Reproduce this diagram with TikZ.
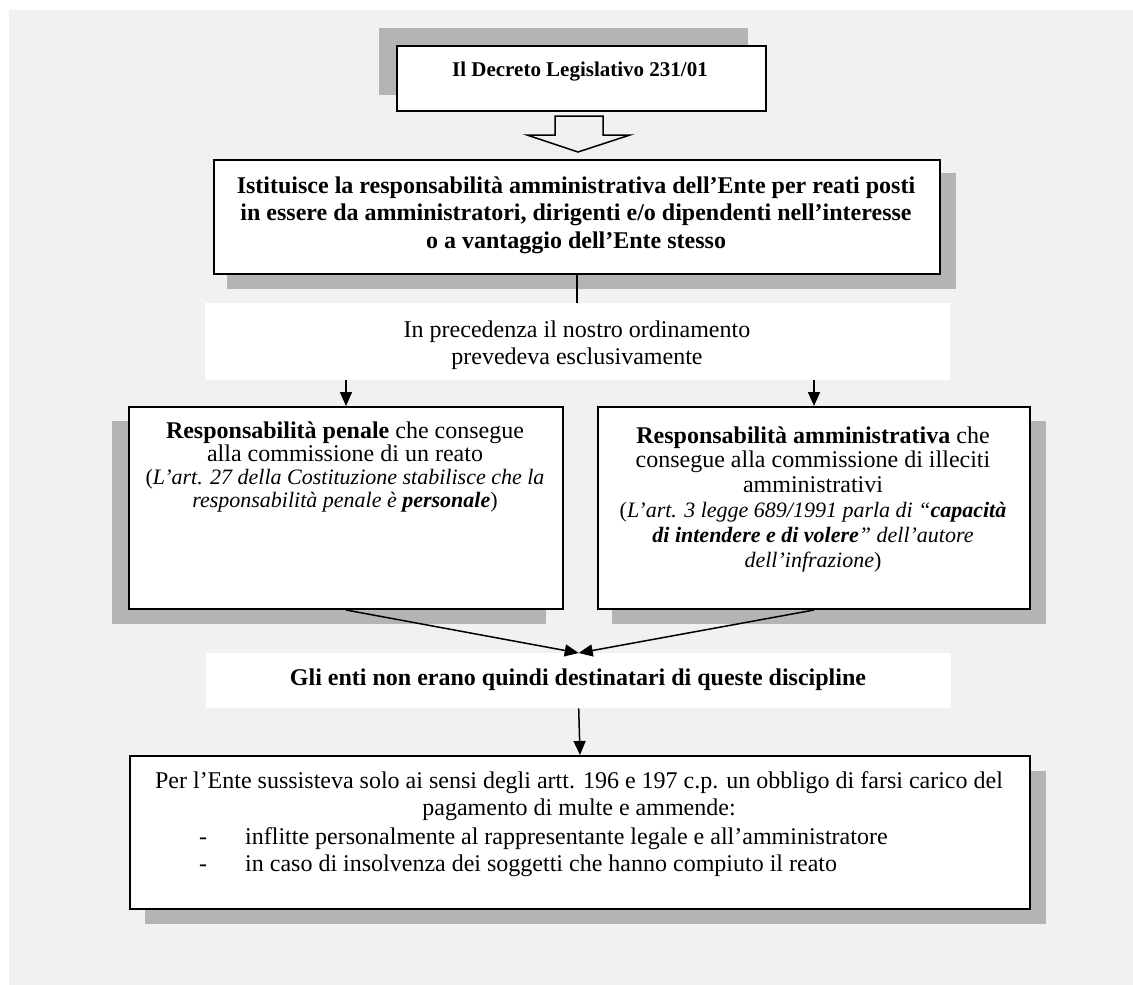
\documentclass[tikz,border=0pt]{standalone}
\usepackage{fontspec}
\setmainfont{Liberation Serif}
\usetikzlibrary{arrows.meta,calc}
\definecolor{bgc}{HTML}{F1F1F1}
\definecolor{shd}{HTML}{B4B4B4}
\newcommand\mynolsl{\lineskiplimit=-50pt\relax}
\begin{document}
\begin{tikzpicture}[x=1pt,y=-1pt,
  box/.style={draw=black, line width=2pt, fill=white, inner sep=0pt, anchor=north west},
  plainbox/.style={fill=white, inner sep=0pt, anchor=north west},
  shadowfill/.style={fill=shd},
  txt/.style={inner sep=0pt, align=center, anchor=base},
  arr/.style={line width=1.5pt, -{Triangle[length=14pt,width=12pt]}},
  conn/.style={line width=1.5pt}]
\useasboundingbox (0,0) rectangle (1133,985);
\fill[bgc] (9,10) rectangle (1133,985);
% shadows
\fill[shadowfill] (379,28) rectangle (748,95);
\fill[shadowfill] (227,173) rectangle (956,289);
\fill[shadowfill] (112,421) rectangle (546,624);
\fill[shadowfill] (612,421) rectangle (1046,624);
\fill[shadowfill] (145,771) rectangle (1046,924);
% boxes
\node[box, minimum width=369pt, minimum height=65pt] (dec) at (396,45) {};
\node[box, minimum width=726pt, minimum height=114pt] (ist) at (213,159) {};
\node[plainbox, minimum width=745pt, minimum height=77pt] (prec) at (205,303) {};
\node[box, minimum width=434pt, minimum height=202pt] (pen) at (128,406) {};
\node[box, minimum width=432pt, minimum height=202pt] (amm) at (597,406) {};
\node[plainbox, minimum width=745pt, minimum height=55pt] (gli) at (206,653) {};
\node[box, minimum width=900pt, minimum height=153pt] (per) at (129,755) {};
% block arrow
\draw[line width=1.5pt, line join=miter] (555,116) -- (603,116) -- (603,135) -- (630,135) -- (578,152) -- (527,135) -- (555,135) -- cycle;
% texts (anchor base = baseline of the last line)
\node[txt, font=\bfseries\fontsize{21}{24}\selectfont] (tdec) at (580,76) {Il Decreto Legislativo 231/01};
\node[txt, font=\bfseries\fontsize{24}{27.5}\selectfont\mynolsl] (tist) at (576,248)
  {Istituisce la responsabilità amministrativa dell’Ente per reati posti\\
   in essere da amministratori, dirigenti e/o dipendenti nell’interesse\\
   o a vantaggio dell’Ente stesso};
\node[txt, font=\fontsize{24}{27.5}\selectfont\mynolsl] (tprec) at (577,364.5)
  {In precedenza il nostro ordinamento\\prevedeva esclusivamente};
\node[txt, font=\fontsize{24}{23}\selectfont\mynolsl] (tpen) at (345,507)
  {\textbf{Responsabilità penale} che consegue\\
   alla commissione di un reato\\
   {\fontsize{22}{23}\selectfont(\textit{L’art. 27 della Costituzione stabilisce che la}}\\
   {\fontsize{22}{23}\selectfont\textit{responsabilità penale è \textbf{personale}})}};
\node[txt, font=\fontsize{24}{24.8}\selectfont\mynolsl] (tamm) at (813,567)
  {\textbf{Responsabilità amministrativa} che\\
   consegue alla commissione di illeciti\\
   amministrativi\\
   {\fontsize{22}{24.8}\selectfont(\textit{L’art. 3 legge 689/1991 parla di “\textbf{capacità}}}\\
   {\fontsize{22}{24.8}\selectfont\textit{\textbf{di intendere e di volere}” dell’autore}}\\
   {\fontsize{22}{24.8}\selectfont\textit{dell’infrazione})}};
\node[txt, font=\bfseries\fontsize{24}{27.5}\selectfont] (tgli) at (578,685)
  {Gli enti non erano quindi destinatari di queste discipline};
\node[txt, font=\fontsize{24}{27.5}\selectfont\mynolsl] (tper) at (579,815.5)
  {Per l’Ente sussisteva solo ai sensi degli artt. 196 e 197 c.p. un obbligo di farsi carico del\\
   pagamento di multe e ammende:};
\node[txt, anchor=base west, align=left, font=\fontsize{24}{27.5}\selectfont\mynolsl] (tlist) at (199,871.5)
  {\makebox[46pt][l]{-}inflitte personalmente al rappresentante legale e all’amministratore\\
   \makebox[46pt][l]{-}in caso di insolvenza dei soggetti che hanno compiuto il reato};
% connectors
\draw[conn] (ist.south) -- (ist.south |- prec.north);
\draw[arr] (prec.south -| pen.north) -- (pen.north);
\draw[arr] (prec.south -| amm.north) -- (amm.north);
\draw[arr] (pen.south) -- (gli.north);
\draw[arr] (amm.south) -- (gli.north);
\draw[arr] (gli.south) -- (per.north);
\end{tikzpicture}
\end{document}
